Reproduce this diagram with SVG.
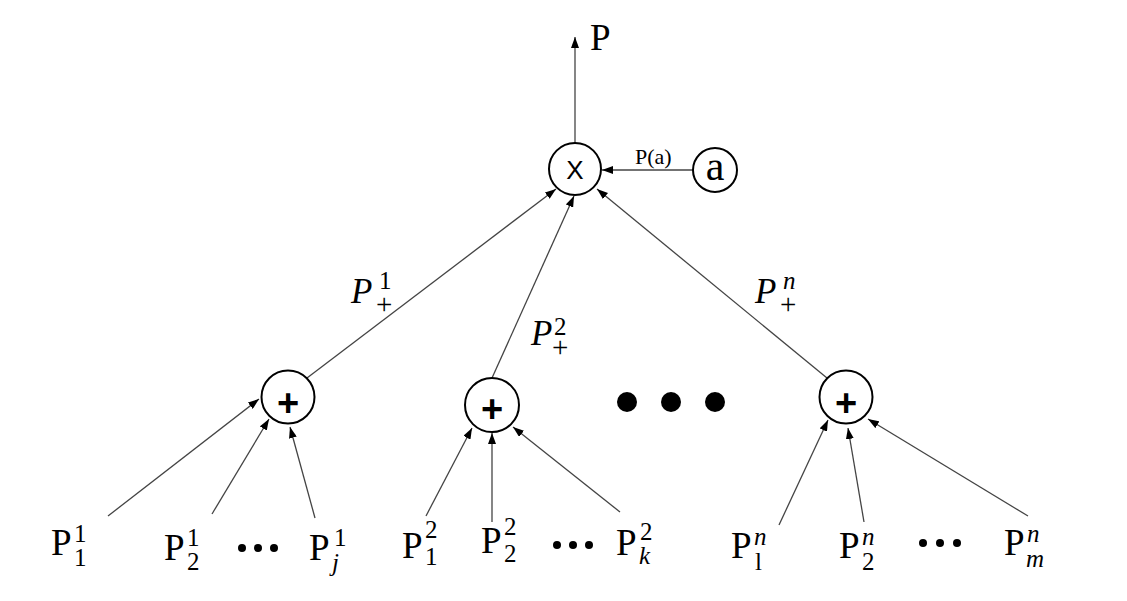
<svg xmlns="http://www.w3.org/2000/svg" width="1127" height="601" viewBox="0 0 1127 601">
<defs>
<marker id="ah" markerUnits="userSpaceOnUse" markerWidth="11" markerHeight="8" refX="11" refY="4" orient="auto">
<path d="M0,0 L11,4 L0,8 z" fill="#000"/>
</marker>
<style>
.edge{stroke:#444;stroke-width:1.3;fill:none;marker-end:url(#ah)}
.node{fill:#fff;stroke:#000;stroke-width:2}
.lbl{font-family:"Liberation Serif",serif;fill:#000}
.P{font-size:37px}
.sc{font-size:25px;font-style:normal}
.EP{font-size:35px;font-style:italic}
.es{font-size:25px;font-style:normal}
.ep{font-size:29px;font-style:normal}
.it{font-style:italic}
.plus{font-family:"Liberation Sans",sans-serif;font-weight:bold;font-size:38px;text-anchor:middle}
</style>
</defs>
<rect width="1127" height="601" fill="#fff"/>

<g id="connectors">
<line class="edge" x1="575" y1="143" x2="575" y2="37"/>
<line class="edge" x1="693" y1="170" x2="602" y2="170"/>
<line class="edge" x1="307" y1="378" x2="556" y2="189"/>
<line class="edge" x1="492" y1="378" x2="574" y2="196"/>
<line class="edge" x1="827" y1="378" x2="597" y2="189"/>
<line class="edge" x1="108" y1="516" x2="259" y2="399"/>
<line class="edge" x1="212" y1="514" x2="269" y2="419"/>
<line class="edge" x1="315" y1="518" x2="290" y2="427"/>
<line class="edge" x1="426" y1="516" x2="472" y2="428"/>
<line class="edge" x1="492" y1="522" x2="492" y2="433"/>
<line class="edge" x1="620" y1="512" x2="513" y2="427"/>
<line class="edge" x1="779" y1="525" x2="828" y2="420"/>
<line class="edge" x1="864" y1="522" x2="848" y2="428"/>
<line class="edge" x1="1028" y1="516" x2="868" y2="419"/>
</g>

<g id="node-out">
<text class="lbl" x="590" y="50" font-size="37">P</text>
</g>

<g id="node-x">
<circle class="node" cx="575" cy="169" r="26"/>
<text x="575" y="179" font-family="Liberation Sans,sans-serif" font-size="26" text-anchor="middle">X</text>
</g>

<g id="node-a">
<circle class="node" cx="715" cy="170" r="22"/>
<text class="lbl" x="715" y="180" font-size="42" text-anchor="middle">a</text>
<text class="lbl" x="635" y="164" font-size="22">P(a)</text>
</g>

<g id="node-plus1">
<circle class="node" cx="288" cy="397" r="26.5"/>
<text class="plus" x="288" y="416">+</text>
<text class="lbl EP" x="351" y="303">P<tspan class="es" x="379" y="289">1</tspan><tspan class="ep" x="376" y="314">+</tspan></text>
</g>

<g id="node-plus2">
<circle class="node" cx="492" cy="405" r="27"/>
<text class="plus" x="492" y="422">+</text>
<text class="lbl EP" x="531" y="345">P<tspan class="es" x="554" y="335">2</tspan><tspan class="ep" x="552" y="357">+</tspan></text>
</g>

<g id="node-dots">
<circle cx="627" cy="402" r="10" fill="#000"/>
<circle cx="671" cy="402" r="10" fill="#000"/>
<circle cx="715" cy="402" r="10" fill="#000"/>
</g>

<g id="node-plusn">
<circle class="node" cx="846" cy="397" r="26.5"/>
<text class="plus" x="846" y="416">+</text>
<text class="lbl EP" x="755" y="303">P<tspan class="es it" x="783" y="289">n</tspan><tspan class="ep" x="780" y="314">+</tspan></text>
</g>

<g id="leaves-1">
<text class="lbl P" x="51" y="555">P<tspan class="sc" x="74" y="542">1</tspan><tspan class="sc" x="74" y="566">1</tspan></text>
<text class="lbl P" x="164" y="560">P<tspan class="sc" x="187" y="546">1</tspan><tspan class="sc" x="187" y="570">2</tspan></text>
<circle cx="242" cy="548" r="4" fill="#000"/>
<circle cx="258" cy="548" r="4" fill="#000"/>
<circle cx="274" cy="548" r="4" fill="#000"/>
<text class="lbl P" x="309" y="560">P<tspan class="sc" x="334" y="546">1</tspan><tspan class="sc it" x="332" y="571">j</tspan></text>
</g>

<g id="leaves-2">
<text class="lbl P" x="402" y="558">P<tspan class="sc" x="425" y="538">2</tspan><tspan class="sc" x="425" y="565">1</tspan></text>
<text class="lbl P" x="481" y="553">P<tspan class="sc" x="504" y="535">2</tspan><tspan class="sc" x="504" y="562">2</tspan></text>
<circle cx="557" cy="545" r="4" fill="#000"/>
<circle cx="573" cy="545" r="4" fill="#000"/>
<circle cx="589" cy="545" r="4" fill="#000"/>
<text class="lbl P" x="616" y="555">P<tspan class="sc" x="640" y="540">2</tspan><tspan class="sc it" x="639" y="564">k</tspan></text>
</g>

<g id="leaves-n">
<text class="lbl P" x="731" y="558">P<tspan class="sc it" x="754" y="545">n</tspan><tspan class="sc" x="755" y="570">l</tspan></text>
<text class="lbl P" x="839" y="558">P<tspan class="sc it" x="862" y="545">n</tspan><tspan class="sc" x="862" y="570">2</tspan></text>
<circle cx="923" cy="543" r="4" fill="#000"/>
<circle cx="940" cy="543" r="4" fill="#000"/>
<circle cx="957" cy="543" r="4" fill="#000"/>
<text class="lbl P" x="1004" y="555">P<tspan class="sc it" x="1027" y="542">n</tspan><tspan class="sc it" x="1026" y="567">m</tspan></text>
</g>
</svg>
